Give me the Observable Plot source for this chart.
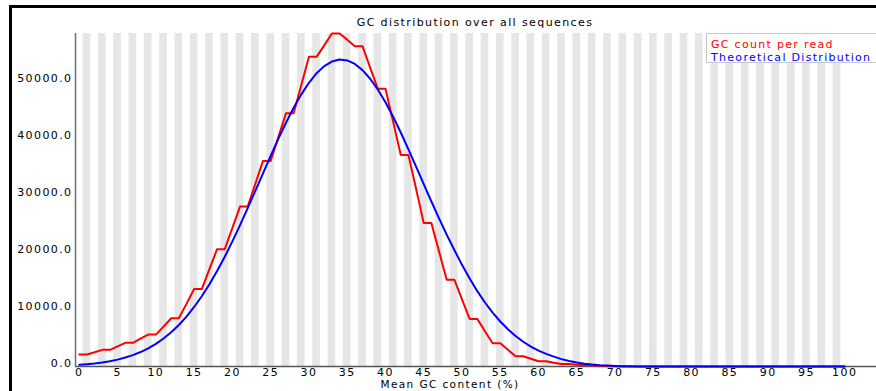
<!DOCTYPE html>
<html>
<head>
<meta charset="utf-8">
<script src="https://cdn.jsdelivr.net/npm/d3@7"></script>
<script src="https://cdn.jsdelivr.net/npm/@observablehq/plot@0.6"></script>
<style>
  html, body { margin: 0; padding: 0; background: #fff; }
  #wrap { position: relative; width: 876px; height: 391px; overflow: hidden; background: #fff; font-family: "DejaVu Sans", sans-serif; }
  #border { position: absolute; left: 9px; top: 5px; right: -10px; bottom: -10px; border-top: 3px solid #000; border-left: 3px solid #000; pointer-events: none; }
  #legend { position: absolute; left: 706px; top: 33px; width: 190px; height: 28px; border: 1px solid #c8c8c8; background: #fff; }
  .lg { position: absolute; left: 4px; font-size: 11px; letter-spacing: 1.3px; line-height: 13px; white-space: nowrap; }
</style>
</head>
<body>
<div id="wrap"></div>
<script>
// GC content categories (%)
const gcPercent = d3.range(0, 101);

// GC count per read (red)
const gcCount = [
  2100, 2100, 2500, 2920, 2920, 3550, 4150, 4150, 4900, 5600,
  5600, 7000, 8470, 8470, 11000, 13600, 13600, 17100, 20600, 20600,
  24350, 28100, 28100, 32100, 36100, 36100, 40280, 44460, 44460, 49400,
  54380, 54380, 56400, 58480, 58480, 57400, 56250, 56250, 52500, 48770,
  48770, 43000, 37150, 37150, 31200, 25180, 25180, 20200, 15250, 15250,
  11800, 8360, 8360, 6200, 4080, 4080, 2940, 1800, 1800, 1360,
  930, 930, 650, 420, 420, 300, 200, 200, 120, 50,
  50, 20, 0, 0, 0, 0, 0, 0, 0, 0,
  0, 0, 0, 0, 0, 0, 0, 0, 0, 0,
  0, 0, 0, 0, 0, 0, 0, 0, 0, 0,
  0
];

// Theoretical distribution (blue)
const theoretical = [
  290, 400, 530, 710, 930, 1210, 1570, 2000, 2540, 3190,
  3980, 4920, 6020, 7290, 8770, 10450, 12340, 14450, 16760, 19280,
  21980, 24830, 27800, 30850, 33930, 36990, 39970, 42800, 45430, 47790,
  49830, 51500, 52750, 53550, 53900, 53750, 53130, 52050, 50540, 48650,
  46410, 43870, 41100, 38140, 35100, 32030, 28980, 26010, 23160, 20460,
  17850, 15440, 13230, 11240, 9470, 7900, 6540, 5360, 4350, 3500,
  2790, 2210, 1730, 1300, 950, 700, 500, 350, 240, 160,
  100, 60, 35, 20, 10, 0, 0, 0, 0, 0,
  0, 0, 0, 0, 0, 0, 0, 0, 0, 0,
  0, 0, 0, 0, 0, 0, 0, 0, 0, 0,
  0
];

const xTicks = [0, 5, 10, 15, 20, 25, 30, 35, 40, 45, 50, 55, 60, 65, 70, 75, 80, 85, 90, 95, 100];
const yTicks = [0, 10000, 20000, 30000, 40000, 50000];
const titleText = "GC distribution over all sequences";
const xLabelText = "Mean GC content (%)";
const seriesNames = ["GC count per read", "Theoretical Distribution"];
const seriesColors = ["#ff0000", "#0000ff"];

const ymax = d3.max(gcCount);
const stripes = gcPercent.filter(d => d % 2 === 1);
const redData = gcPercent.map((g, i) => ({g, v: gcCount[i]}));
const blueData = gcPercent.map((g, i) => ({g, v: theoretical[i]}));

const chart = Plot.plot({
  width: 876,
  height: 391,
  marginLeft: 75,
  marginRight: 0,
  marginTop: 33,
  marginBottom: 25,
  x: {domain: [-0.5, 100.5], range: [75, 848]},
  y: {domain: [0, ymax]},
  style: {fontFamily: "DejaVu Sans", fontSize: "11px", letterSpacing: "1.4px", background: "white", color: "#000", overflow: "visible"},
  marks: [
    Plot.rect(stripes, {x1: d => d - 0.5, x2: d => d + 0.5, y1: 0, y2: ymax, fill: "#e6e6e6"}),
    Plot.ruleX([-0.5], {stroke: "#6e6e6e", strokeWidth: 1.5}),
    Plot.ruleY([0], {stroke: "#555", strokeWidth: 1.5}),
    Plot.axisY({ticks: yTicks, tickSize: 0, tickPadding: 3, tickFormat: d => d.toFixed(1), dy: -3, label: null, fill: "#000"}),
    Plot.axisX({ticks: xTicks, tickSize: 0, tickPadding: 1.5, tickFormat: d => String(d), label: null, fill: "#000"}),
    Plot.line(redData, {x: "g", y: "v", stroke: seriesColors[0], strokeWidth: 2}),
    Plot.line(blueData, {x: "g", y: "v", stroke: seriesColors[1], strokeWidth: 2}),
    Plot.text([titleText], {frameAnchor: "top", lineAnchor: "middle", dy: -11, dx: -1, fill: "#000"}),
    Plot.text([xLabelText], {frameAnchor: "bottom", lineAnchor: "middle", dy: 18.5, dx: -26, fontSize: 10.5, fill: "#000"})
  ]
});

const wrap = document.getElementById("wrap");
wrap.appendChild(chart);

const legend = document.createElement("div");
legend.id = "legend";
seriesNames.forEach((name, i) => {
  const s = document.createElement("span");
  s.className = "lg";
  s.textContent = name;
  s.style.color = seriesColors[i];
  s.style.top = (i === 0 ? 4 : 16.5) + "px";
  legend.appendChild(s);
});
wrap.appendChild(legend);

const border = document.createElement("div");
border.id = "border";
wrap.appendChild(border);
</script>
</body>
</html>
